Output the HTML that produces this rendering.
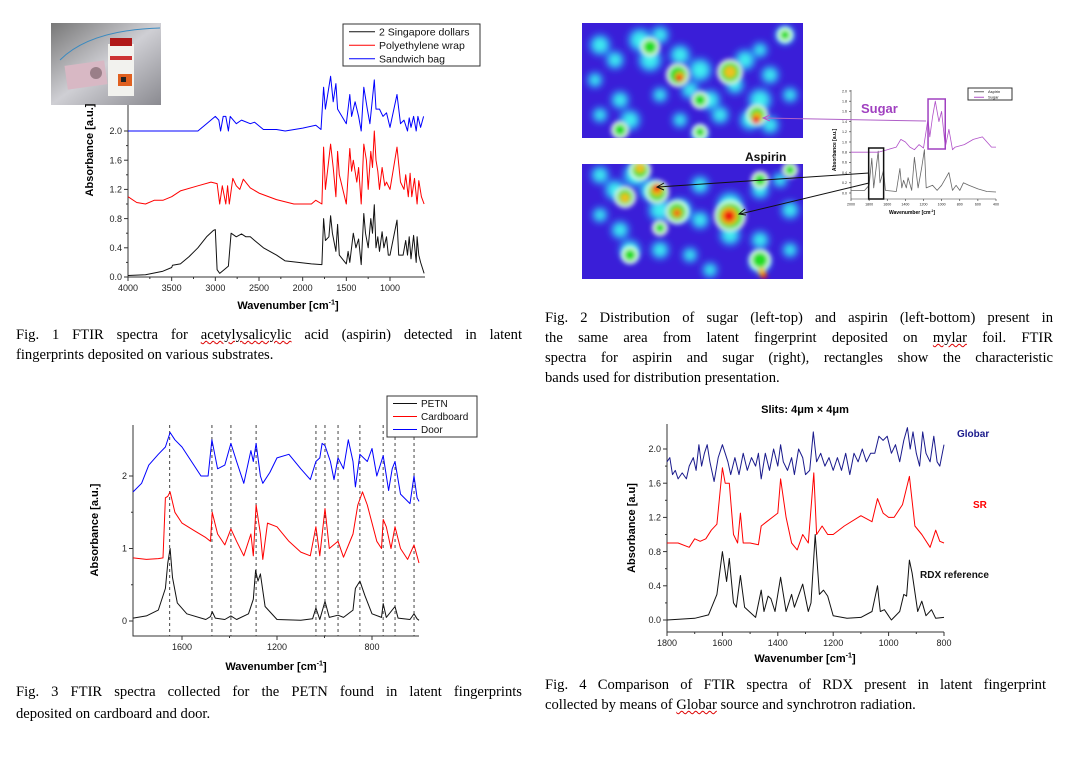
<!DOCTYPE html>
<html><head><meta charset="utf-8">
<style>
body{margin:0;background:#fff;}
#wrap{position:relative;width:1073px;height:780px;overflow:hidden;background:#fff;}
svg{position:absolute;left:0;top:0;}
.cap{position:absolute;font-family:"Liberation Serif",serif;font-size:14.6px;line-height:20px;color:#000;text-align:justify;}
.sq{text-decoration:underline wavy #d00;text-decoration-thickness:1px;}
</style></head>
<body>
<div id="wrap">
<svg id="s" width="1073" height="780" viewBox="0 0 1073 780">
<defs>
<filter id="bl" x="-20%" y="-20%" width="140%" height="140%"><feGaussianBlur stdDeviation="3.5"/></filter>
<filter id="bl2"><feGaussianBlur stdDeviation="2.5"/></filter>
<linearGradient id="ph" x1="0" y1="0" x2="1" y2="1"><stop offset="0" stop-color="#777"/><stop offset="0.5" stop-color="#cfcfd4"/><stop offset="1" stop-color="#8a8a90"/></linearGradient>
<clipPath id="c1"><rect x="582" y="23" width="221" height="115"/></clipPath>
<clipPath id="c2"><rect x="582" y="164" width="221" height="115"/></clipPath>
</defs>
<g id="photo">
<rect x="51" y="23" width="110" height="82" fill="url(#ph)"/>
<path d="M60 60 Q90 30 160 28" stroke="#3a8ac0" stroke-width="1" fill="none"/>
<rect x="108" y="44" width="26" height="52" fill="#f2f2ee"/>
<rect x="110" y="38" width="22" height="8" fill="#b01818"/>
<rect x="110" y="56" width="22" height="4" fill="#c33"/>
<rect x="118" y="74" width="14" height="12" fill="#e06020"/>
<rect x="121" y="77" width="5" height="5" fill="#222"/>
<rect x="66" y="63" width="40" height="24" fill="#d8b8c4" transform="rotate(-8 86 75)"/>
<circle cx="96" cy="73" r="6" fill="#9a7f88"/>
</g>
<g id="hm"></g>
<g id="charts"></g>
</svg>
<div class="cap" style="left:16px;top:325px;width:506px;"><div style="text-align-last:justify">Fig. 1 FTIR spectra for <span class="sq">acetylysalicylic</span> acid (aspirin) detected in latent</div><div>fingerprints deposited on various substrates.</div></div>
<div class="cap" style="left:545px;top:308px;width:508px;"><div style="text-align-last:justify">Fig. 2 Distribution of sugar (left-top) and aspirin (left-bottom) present in</div><div style="text-align-last:justify">the same area from latent fingerprint deposited on <span class="sq">mylar</span> foil. FTIR</div><div style="text-align-last:justify">spectra for aspirin and sugar (right), rectangles show the characteristic</div><div>bands used for distribution presentation.</div></div>
<div class="cap" style="left:16px;top:681px;width:506px;line-height:22px;"><div style="text-align-last:justify">Fig. 3 FTIR spectra collected for the PETN found in latent fingerprints</div><div>deposited on cardboard and door.</div></div>
<div class="cap" style="left:545px;top:675px;width:501px;"><div style="text-align-last:justify">Fig. 4 Comparison of FTIR spectra of RDX present in latent fingerprint</div><div>collected by means of <span class="sq">Globar</span> source and synchrotron radiation.</div></div>
</div>
<script>
// ---------- Fig 1 data ----------
const f1BlackX=[4000,3800,3600,3500,3490,3400,3300,3200,3100,3020,3000,2980,2950,2900,2850,2820,2760,2700,2650,2600,2550,2450,2300,2200,2050,1900,1780,1760,1740,1700,1680,1660,1620,1600,1580,1500,1480,1460,1420,1390,1360,1330,1300,1280,1250,1220,1200,1180,1160,1140,1120,1090,1070,1040,1020,1000,920,900,850,820,800,780,760,730,700,690,670,650,610];
const f1BlackY=[0.02,0.03,0.08,0.13,0.16,0.18,0.28,0.4,0.55,0.64,0.65,0.1,0.05,0.1,0.15,0.6,0.55,0.59,0.55,0.55,0.5,0.4,0.3,0.22,0.2,0.18,0.17,0.8,0.5,0.55,0.84,0.6,0.35,0.72,0.3,0.18,0.35,0.2,0.6,0.4,0.52,0.17,0.87,0.6,0.4,0.8,0.6,0.99,0.4,0.55,0.35,0.62,0.4,0.55,0.3,0.3,0.78,0.3,0.3,0.5,0.3,0.55,0.25,0.57,0.2,0.55,0.3,0.2,0.05];
const f1RedX=[4000,3900,3800,3700,3600,3500,3400,3200,3050,2980,2950,2920,2880,2860,2840,2800,2760,2720,2680,2640,2600,2500,2300,2100,1900,1850,1780,1760,1740,1680,1650,1620,1600,1580,1500,1460,1440,1420,1380,1360,1330,1300,1270,1250,1220,1200,1180,1160,1140,1120,1090,1060,1040,1000,920,880,840,820,790,770,750,720,690,670,640,610];
const f1RedY=[1.1,1.02,1.0,1.05,1.05,1.1,1.18,1.25,1.3,1.28,1.0,1.25,1.0,1.25,1.0,1.35,1.25,1.2,1.34,1.28,1.22,1.15,1.06,1.0,1.0,1.05,1.0,1.78,1.2,1.82,1.5,1.1,1.72,1.4,1.0,1.76,1.45,1.6,1.3,1.5,1.0,1.82,1.6,1.2,1.72,1.5,2.0,1.6,1.45,1.2,1.5,1.25,1.3,1.2,1.78,1.3,1.2,1.4,1.1,1.42,1.1,1.35,1.0,1.32,1.1,1.0];
const f1BlueX=[4000,3500,3200,3100,3000,2960,2940,2910,2880,2850,2830,2760,2700,2600,2550,2450,2300,2200,2000,1850,1790,1760,1740,1680,1650,1620,1600,1500,1460,1440,1400,1360,1330,1300,1260,1230,1200,1180,1160,1120,1080,1040,1000,920,880,840,800,780,760,730,700,680,650,615];
const f1BlueY=[2.0,2.0,2.0,2.1,2.2,2.15,2.0,2.2,2.2,2.0,2.2,2.1,2.15,2.1,2.12,2.02,2.02,2.0,2.04,2.08,2.02,2.6,2.3,2.75,2.4,2.65,2.3,2.1,2.5,2.2,2.4,2.2,2.0,2.6,2.3,2.1,2.45,2.7,2.3,2.3,2.2,2.25,2.05,2.5,2.1,2.15,2.0,2.18,2.05,2.2,2.0,2.2,2.05,2.2];
const f1YTicks=[0.0,0.4,0.8,1.2,1.6,2.0];
const f1XTicks=[4000,3500,3000,2500,2000,1500,1000];
const f1Legend=["2 Singapore dollars","Polyethylene wrap","Sandwich bag"];
// ---------- Fig 2 data ----------
const f2AspX=[2000,1850,1800,1770,1750,1700,1680,1640,1620,1500,1460,1440,1420,1390,1370,1330,1300,1260,1220,1190,1170,1100,1050,1000,920,880,840,800,760,700,600,500,400];
const f2AspY=[0.05,0.05,0.15,0.68,0.1,0.82,0.2,0.45,0.05,0.03,0.48,0.1,0.25,0.1,0.3,0.05,0.7,0.1,0.5,0.85,0.1,0.15,0.05,0.15,0.4,0.05,0.15,0.05,0.2,0.15,0.08,0.03,0.02];
const f2SugX=[2000,1700,1600,1500,1450,1400,1350,1300,1250,1200,1150,1130,1100,1070,1050,1030,1000,960,920,880,850,750,650,550,450,400];
const f2SugY=[0.8,0.8,0.85,0.9,1.05,1.0,0.9,0.85,0.95,0.88,1.45,1.1,1.5,1.8,1.6,1.4,1.6,0.9,1.25,0.85,0.9,0.95,1.05,1.1,0.9,0.9];
const f2YTicks=[0.0,0.2,0.4,0.6,0.8,1.0,1.2,1.4,1.6,1.8,2.0];
const f2XTicks=[2000,1800,1600,1400,1200,1000,800,600,400];
// ---------- Fig 3 data ----------
const f3PetnX=[1806,1750,1700,1670,1660,1650,1640,1620,1580,1500,1480,1473,1460,1420,1394,1370,1320,1300,1290,1280,1270,1250,1200,1100,1050,1036,1020,998,980,943,920,880,870,851,830,800,760,753,740,703,690,640,623,610,602];
const f3PetnY=[0.04,0.07,0.15,0.45,0.8,1.0,0.6,0.25,0.1,0.02,0.06,0.13,0.04,0.02,0.07,0.02,0.1,0.3,0.7,0.55,0.65,0.2,0.02,0.01,0.03,0.18,0.02,0.27,0.05,0.08,0.05,0.15,0.45,0.55,0.35,0.1,0.05,0.24,0.05,0.2,0.04,0.02,0.1,0.03,0.01];
const f3CardX=[1806,1750,1700,1680,1670,1660,1650,1630,1600,1550,1500,1480,1473,1450,1420,1394,1370,1340,1310,1300,1288,1270,1260,1240,1200,1150,1100,1060,1036,1020,998,980,943,920,880,860,840,820,780,760,753,740,720,703,680,650,623,602];
const f3CardY=[0.87,0.85,0.86,0.87,1.7,1.72,1.78,1.5,1.35,1.25,1.15,1.1,1.5,1.2,1.05,1.27,1.1,0.9,1.2,0.9,1.6,1.2,0.85,1.35,1.3,1.1,0.95,0.9,1.3,0.9,1.55,1.0,1.1,0.88,1.2,1.6,1.78,1.6,1.1,1.0,1.4,1.3,1.0,1.3,1.0,0.85,1.05,0.8];
const f3DoorX=[1806,1770,1740,1700,1670,1650,1630,1600,1560,1520,1490,1474,1450,1420,1394,1370,1340,1310,1300,1288,1270,1260,1230,1200,1150,1100,1060,1036,1020,1010,998,975,960,943,920,900,880,870,851,820,800,780,753,730,715,703,680,640,623,610,602];
const f3DoorY=[1.78,1.9,2.15,2.3,2.4,2.6,2.5,2.4,2.2,2.0,2.0,2.5,2.1,2.15,2.45,2.2,1.9,2.35,2.2,2.45,2.0,1.9,2.05,2.25,2.3,2.1,1.95,2.2,2.25,2.45,2.42,2.2,1.95,2.25,2.1,2.5,2.2,1.85,2.3,2.2,2.38,2.0,2.28,1.8,2.1,2.2,1.75,1.62,2.0,1.7,1.65];
const f3Marks=[1652,1474,1394,1288,1036,998,943,851,753,703,623];
const f3YTicks=[0,1,2];
const f3XTicks=[1600,1200,800];
const f3Legend=["PETN","Cardboard","Door"];
// ---------- Fig 4 data ----------
const f4RdxX=[1800,1700,1650,1620,1600,1585,1575,1560,1550,1535,1520,1480,1460,1450,1435,1425,1410,1390,1370,1350,1340,1310,1290,1280,1265,1250,1235,1220,1200,1150,1100,1060,1040,1030,1015,990,960,945,935,925,915,895,880,865,845,830,800];
const f4RdxY=[0.0,0.02,0.06,0.3,0.8,0.45,0.72,0.2,0.15,0.52,0.15,0.03,0.35,0.1,0.28,0.25,0.1,0.5,0.1,0.3,0.15,0.42,0.1,0.2,1.0,0.3,0.35,0.28,0.05,0.02,0.03,0.1,0.4,0.1,0.12,0.0,0.1,0.3,0.28,0.7,0.55,0.1,0.22,0.05,0.12,0.02,0.03];
const f4SrX=[1800,1760,1720,1700,1680,1660,1640,1620,1600,1590,1575,1560,1545,1535,1525,1500,1470,1460,1440,1420,1400,1390,1370,1350,1330,1310,1290,1270,1260,1240,1220,1200,1160,1100,1060,1040,1020,1000,980,950,925,905,880,850,830,815,800];
const f4SrY=[0.9,0.9,0.85,0.95,0.92,0.95,1.05,1.12,1.78,1.6,1.6,1.0,0.9,1.25,0.9,0.9,0.88,1.1,1.15,1.2,1.25,1.65,1.2,0.9,0.82,1.0,0.9,1.72,1.0,1.1,1.0,1.0,1.1,1.22,1.15,1.42,1.25,1.2,1.2,1.35,1.68,1.1,1.0,0.85,1.05,0.92,0.9];
const f4GlobX=[1800,1790,1780,1770,1760,1745,1730,1720,1705,1695,1685,1675,1665,1655,1645,1630,1615,1600,1590,1580,1570,1555,1540,1525,1510,1495,1480,1470,1460,1445,1430,1415,1400,1390,1380,1365,1350,1340,1325,1310,1300,1285,1272,1260,1245,1230,1215,1200,1185,1170,1155,1140,1125,1110,1095,1080,1065,1050,1035,1020,1005,990,975,960,945,932,922,912,900,888,877,865,850,837,825,815,800];
const f4GlobY=[1.85,1.9,1.7,1.75,1.65,1.72,1.65,1.8,1.9,1.75,2.05,1.8,1.95,2.05,1.85,1.62,1.9,2.05,1.95,1.85,1.7,1.9,1.7,1.95,1.75,1.9,1.8,1.95,1.65,1.95,1.75,2.0,1.8,2.05,1.85,1.75,1.9,1.7,2.0,1.9,1.7,1.75,2.2,1.85,1.95,1.8,1.9,1.75,1.9,1.75,1.95,1.7,1.95,1.85,2.0,1.85,1.95,1.95,2.15,2.1,2.15,1.95,2.05,1.85,2.1,2.25,2.0,2.2,1.95,1.8,2.2,1.95,1.85,2.15,1.85,1.8,2.05];
const f4YTicks=[0.0,0.4,0.8,1.2,1.6,2.0];
const f4XTicks=[1800,1600,1400,1200,1000,800];

const NS='http://www.w3.org/2000/svg';
function mk(tag,parent){const e=document.createElementNS(NS,tag);parent.appendChild(e);return e;}
function setA(e,o){for(const k in o)e.setAttribute(k,o[k]);}
const root=document.getElementById('charts');
function lin(d0,d1,p0,p1){return v=>p0+(v-d0)*(p1-p0)/(d1-d0);}
function series(g,xs,ys,X,Y,color,name,w){
  const p=mk('path',g);
  let d='';xs.forEach((x,i)=>{d+=(i?'L':'M')+X(x).toFixed(1)+' '+Y(ys[i]).toFixed(1);});
  setA(p,{d:d,fill:'none',stroke:color,'stroke-width':w||1,'stroke-linejoin':'round'});
  
  
}
function text(g,x,y,s,o,name){
  const t=mk('text',g);t.textContent=s;
  setA(t,Object.assign({x:x,y:y,'font-family':'Liberation Sans, sans-serif'},o));
  
  
  return t;
}
function axes(g,c){
  const a=mk('path',g);
  setA(a,{d:`M${c.l} ${c.t}V${c.b}H${c.r}`,fill:'none',stroke:'#333','stroke-width':c.aw||1});
  
  
  c.yt.forEach(v=>{const y=c.Y(v);const l=mk('line',g);setA(l,{x1:c.l-c.tl,x2:c.l,y1:y,y2:y,stroke:'#333','stroke-width':c.aw||1});
    text(g,c.l-c.tl-2,y+c.fs*0.35,c.yfmt(v),{'font-size':c.fs,'text-anchor':'end',fill:'#222'},'y-tick-label');});
  c.xt.forEach(v=>{const x=c.X(v);const l=mk('line',g);setA(l,{x1:x,x2:x,y1:c.b,y2:c.b+c.tl,stroke:'#333','stroke-width':c.aw||1});
    text(g,x,c.b+c.tl+c.fs+1,String(v),{'font-size':c.fs,'text-anchor':'middle',fill:'#222'},'x-tick-label');});
  if(c.ym)for(let i=0;i<c.yt.length-1;i++){const y=(c.Y(c.yt[i])+c.Y(c.yt[i+1]))/2;const l=mk('line',g);setA(l,{x1:c.l-c.tl/2,x2:c.l,y1:y,y2:y,stroke:'#333','stroke-width':c.aw||1});}
  if(c.xm)for(let i=0;i<c.xt.length-1;i++){const x=(c.X(c.xt[i])+c.X(c.xt[i+1]))/2;const l=mk('line',g);setA(l,{x1:x,x2:x,y1:c.b,y2:c.b+c.tl/2,stroke:'#333','stroke-width':c.aw||1});}
  text(g,0,0,c.ytitle,{'font-size':c.tfs,'font-weight':'bold','text-anchor':'middle',transform:`translate(${c.ytx},${c.yty}) rotate(-90)`},'y-axis-title');
  const xt=text(g,c.xtx,c.xty,'Wavenumber [cm',{'font-size':c.tfs,'font-weight':'bold','text-anchor':'middle'},'x-axis-title');
  const s1=mk('tspan',xt);s1.textContent='-1';setA(s1,{dy:-c.tfs*0.4,'font-size':c.tfs*0.65});
  const s2=mk('tspan',xt);s2.textContent=']';setA(s2,{dy:c.tfs*0.4});
}
function legend(g,x,y,w,h,labels,colors,dy,fs,lx){
  const r=mk('rect',g);setA(r,{x:x,y:y,width:w,height:h,fill:'#fff',stroke:'#333','stroke-width':1});
  
  
  labels.forEach((s,i)=>{const yy=y+dy*(i+0.5)+1;const l=mk('line',g);setA(l,{x1:x+6,x2:x+6+lx,y1:yy,y2:yy,stroke:colors[i],'stroke-width':1});
    
    
    text(g,x+10+lx,yy+fs*0.36,s,{'font-size':fs,fill:'#111'},'legend-entry');});
}
const f1=(v)=>v.toFixed(1);
// Fig 1
(function(){
 const g=mk('g',root);
 const X=lin(4000,1000,128,390),Y=lin(0,2,277,131);
 axes(g,{l:128,t:105,b:277,r:425,X:X,Y:Y,yt:f1YTicks,xt:f1XTicks,tl:4,fs:9,yfmt:f1,ym:true,xm:true,ytitle:'Absorbance [a.u.]',ytx:93,yty:150,xtx:288,xty:309,tfs:11});
 series(g,f1BlackX,f1BlackY,X,Y,'#111','series-singapore-dollars');
 series(g,f1RedX,f1RedY,X,Y,'#f00','series-polyethylene-wrap');
 series(g,f1BlueX,f1BlueY,X,Y,'#00f','series-sandwich-bag');
 legend(g,343,24,137,42,f1Legend,['#111','#f00','#00f'],13.5,10.5,26);
})();
// Fig 3
(function(){
 const g=mk('g',root);
 const X=lin(1600,800,182,372),Y=lin(0,2,621,476);
 f3Marks.forEach(w=>{const l=mk('line',g);setA(l,{x1:X(w),x2:X(w),y1:425,y2:636,stroke:'#444','stroke-width':1,'stroke-dasharray':'3,3'});
   
   });
 axes(g,{l:133,t:425,b:636,r:419,X:X,Y:Y,yt:f3YTicks,xt:f3XTicks,tl:4,fs:9,yfmt:v=>String(v),ym:true,xm:true,ytitle:'Absorbance [a.u.]',ytx:98,yty:530,xtx:276,xty:670,tfs:11});
 series(g,f3PetnX,f3PetnY,X,Y,'#111','series-petn');
 series(g,f3CardX,f3CardY,X,Y,'#f00','series-cardboard');
 series(g,f3DoorX,f3DoorY,X,Y,'#00f','series-door');
 legend(g,387,396,90,41,f3Legend,['#111','#f00','#00f'],13,10,24);
})();
// Fig 4
(function(){
 const g=mk('g',root);
 const X=lin(1800,800,667,944),Y=lin(0,2,620,449);
 axes(g,{l:667,t:424,b:632,r:944,X:X,Y:Y,yt:f4YTicks,xt:f4XTicks,tl:4,fs:9,yfmt:f1,ym:true,xm:true,ytitle:'Absorbance [a.u]',ytx:635,yty:528,xtx:805,xty:662,tfs:11});
 series(g,f4RdxX,f4RdxY,X,Y,'#111','series-rdx-reference');
 series(g,f4SrX,f4SrY,X,Y,'#f00','series-sr');
 series(g,f4GlobX,f4GlobY,X,Y,'#1a1a8c','series-globar');
 text(g,805,413,'Slits: 4\u03bcm \u00d7 4\u03bcm',{'font-size':11,'font-weight':'bold','text-anchor':'middle'},'chart-title');
 text(g,957,437,'Globar',{'font-size':10,'font-weight':'bold',fill:'#1a1a8c'},'label-globar');
 text(g,973,508,'SR',{'font-size':10,'font-weight':'bold',fill:'#f00'},'label-sr');
 text(g,920,578,'RDX reference',{'font-size':10,'font-weight':'bold',fill:'#111'},'label-rdx');
})();
// Fig 2 small chart
(function(){
 const g=mk('g',root);
 const X=lin(2000,400,851,996),Y=lin(0,2,193,91);
 axes(g,{l:851,t:90,b:199,r:996,X:X,Y:Y,yt:f2YTicks,xt:f2XTicks,tl:2,fs:3.6,yfmt:f1,ytitle:'Absorbance [a.u.]',ytx:836,yty:150,xtx:912,xty:214,tfs:5,aw:0.6});
 series(g,f2AspX,f2AspY,X,Y,'#666','series-aspirin',0.8);
 series(g,f2SugX,f2SugY,X,Y,'#b050c8','series-sugar',0.8);
 legend(g,968,88,44,12,['Aspirin','Sugar'],['#666','#b050c8'],5.5,4,10);
 const r1=mk('rect',g);setA(r1,{x:X(1150),y:99,width:X(960)-X(1150),height:50,fill:'none',stroke:'#a040c0','stroke-width':1.5});
 
 const r2=mk('rect',g);setA(r2,{x:X(1805),y:148,width:X(1640)-X(1805),height:51,fill:'none',stroke:'#111','stroke-width':1.5});
 
 text(g,861,113,'Sugar',{'font-size':13,'font-weight':'bold',fill:'#a040c0'},'sugar-label');
 text(g,745,161,'Aspirin',{'font-size':12,'font-weight':'bold',fill:'#111'},'aspirin-label');
 const a1=mk('path',g);setA(a1,{d:'M926 121L764 118M770 115L763 118L770 121',stroke:'#b060c8','stroke-width':1,fill:'none'});
 
 const a2=mk('path',g);setA(a2,{d:'M869 173L658 187M664 183L657 187L664 190M869 183L740 214M745 209L739 214L746 215',stroke:'#111','stroke-width':1,fill:'none'});
 
})();
// Heatmaps (image-like distribution maps)
(function(){
 const hm=document.getElementById('hm');
 const maps=[
  {clip:'c1',x:582,y:23,name:'sugar-distribution-map',
   cyan:[[600,45,12],[615,60,10],[640,40,14],[660,35,10],[650,60,14],[680,55,12],[700,70,14],[690,90,10],[710,100,12],[720,115,10],[735,85,10],[745,60,12],[760,50,8],[770,75,10],[760,100,14],[750,120,12],[770,125,10],[790,95,8],[785,35,10],[620,100,10],[630,120,12],[660,95,8],[595,80,8],[600,115,8],[680,120,8],[700,135,8]],
   green:[[650,47,7],[678,75,9],[700,100,6],[730,72,10],[757,115,8],[620,130,6],[785,35,5],[700,132,5]],
   yel:[[730,72,6],[680,77,5],[757,117,5]],
   red:[[679,78,3.5],[756,120,4]]},
  {clip:'c2',x:582,y:164,name:'aspirin-distribution-map',
   cyan:[[600,175,10],[615,190,12],[635,175,14],[650,190,12],[660,210,14],[680,210,14],[700,185,10],[700,220,10],[730,205,16],[730,235,12],[760,190,10],[780,180,8],[790,210,10],[760,240,10],[620,230,10],[630,250,12],[660,250,10],[690,255,8],[760,262,12],[790,250,8],[600,215,8],[710,270,8]],
   green:[[625,197,8],[640,170,8],[657,192,9],[677,212,9],[730,216,13],[760,260,8],[760,180,6],[790,170,5],[630,255,6],[660,228,5]],
   yel:[[625,198,5],[640,168,5],[657,190,6],[677,213,5],[729,216,9],[762,272,4]],
   red:[[657,188,4],[729,216,6],[677,213,3],[764,276,3]]}];
 maps.forEach(m=>{
  const g=mk('g',hm);g.setAttribute('clip-path','url(#'+m.clip+')');
  
  
  const bg=mk('rect',g);setA(bg,{x:m.x,y:m.y,width:221,height:115,fill:'#3a1ed8'});
  const g0=mk('g',g);g0.setAttribute('filter','url(#bl)');
  m.cyan.forEach(c=>{const e=mk('circle',g0);setA(e,{cx:c[0],cy:c[1],r:c[2]*0.7+3,fill:'#2a7cf0'});});
  m.cyan.forEach(c=>{const e=mk('circle',g0);setA(e,{cx:c[0],cy:c[1],r:c[2]*0.55,fill:'#40f0f0'});});
  const g1=mk('g',g);g1.setAttribute('filter','url(#bl2)');
  m.green.forEach(c=>{const e=mk('circle',g1);setA(e,{cx:c[0],cy:c[1],r:c[2]+3,fill:'#e8fff0'});});
  m.green.forEach(c=>{const e=mk('circle',g1);setA(e,{cx:c[0],cy:c[1],r:c[2],fill:'#22dd22'});});
  m.yel.forEach(c=>{const e=mk('circle',g1);setA(e,{cx:c[0],cy:c[1],r:c[2],fill:'#f0c020'});});
  m.red.forEach(c=>{const e=mk('circle',g1);setA(e,{cx:c[0],cy:c[1],r:c[2],fill:'#ee1010'});});
 });
})();
</script>
</body></html>
